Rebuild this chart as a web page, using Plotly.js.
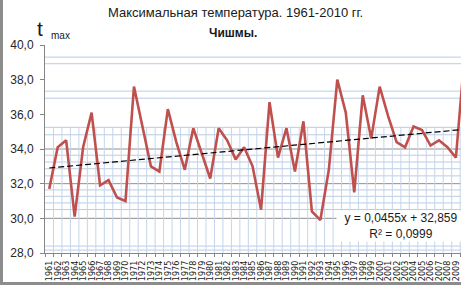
<!DOCTYPE html>
<html>
<head>
<meta charset="utf-8">
<script src="https://cdn.plot.ly/plotly-3.0.1.min.js"></script>
<style>
  html, body { margin: 0; padding: 0; background: #fff; overflow: hidden; }
  #wrap { position: relative; width: 461px; height: 285px; }
  #chart { position: absolute; left: 0; top: 0; width: 461px; height: 285px; }
  .bd { position: absolute; background: #8c8c8c; pointer-events: none; }
</style>
</head>
<body>
<div id="wrap">
  <div id="chart"></div>
  <div class="bd" style="left:0;top:0;width:3px;height:285px;"></div>
  <div class="bd" style="left:0;top:282px;width:461px;height:3px;"></div>
</div>
<script>
// ---- data ----
const years = [1961, 1962, 1963, 1964, 1965, 1966, 1967, 1968, 1969, 1970,
               1971, 1972, 1973, 1974, 1975, 1976, 1977, 1978, 1979, 1980,
               1981, 1982, 1983, 1984, 1985, 1986, 1987, 1988, 1989, 1990,
               1991, 1992, 1993, 1994, 1995, 1996, 1997, 1998, 1999, 2000,
               2001, 2002, 2003, 2004, 2005, 2006, 2007, 2008, 2009, 2010];
const tmax = [31.7, 34.1, 34.5, 30.1, 34.1, 36.1, 31.9, 32.2, 31.2, 31.0,
              37.6, 35.3, 33.0, 32.7, 36.3, 34.4, 32.8, 35.2, 33.7, 32.3,
              35.2, 34.5, 33.4, 34.1, 33.0, 30.5, 36.7, 33.5, 35.2, 32.7,
              35.6, 30.4, 29.9, 32.8, 38.0, 36.1, 31.5, 37.1, 34.6, 37.6,
              35.9, 34.4, 34.1, 35.3, 35.1, 34.2, 34.5, 34.1, 33.5, 39.3];
const trendSlope = 0.0455;
const trendIntercept = 32.859;
const trendR2 = "0,0999";
const yTicks = [28, 30, 32, 34, 36, 38, 40];
// gridline levels visible in the picture
const majorGrid = [30, 32, 34];
const minorGrid = [39.30, 38.92, 37.34, 36.93, 35.25, 34.82,
                   33.64, 33.25, 32.86, 32.45, 31.64, 31.27, 30.89, 30.51,
                   28.40, 28.17];

// ---- build ----
const trend = years.map((y, i) => trendIntercept + trendSlope * (i + 1));
const FONT = "Liberation Sans, Arial, sans-serif";

const shapes = [];
minorGrid.forEach(v => shapes.push({type: 'line', xref: 'paper', x0: 0, x1: 1, yref: 'y', y0: v, y1: v,
  line: {color: '#b9cde5', width: 1}, layer: 'below'}));
years.forEach(y => shapes.push({type: 'line', xref: 'x', x0: y + 0.5, x1: y + 0.5, yref: 'y', y0: 28, y1: 35.25,
  line: {color: '#c5d5ea', width: 1}, layer: 'below'}));
majorGrid.forEach(v => shapes.push({type: 'line', xref: 'paper', x0: 0, x1: 1, yref: 'y', y0: v, y1: v,
  line: {color: '#8f8f8f', width: 1}, layer: 'below'}));

const traces = [
  {x: years, y: tmax, type: 'scatter', mode: 'lines',
   line: {color: '#c0504d', width: 2.6}, hoverinfo: 'skip'},
  {x: years, y: trend, type: 'scatter', mode: 'lines',
   line: {color: '#000000', width: 1.2, dash: '6px,3px'}, hoverinfo: 'skip'}
];

const layout = {
  width: 461, height: 285,
  margin: {l: 45, r: 0, t: 45, b: 32, pad: 0},
  paper_bgcolor: '#ffffff', plot_bgcolor: '#ffffff',
  showlegend: false,
  separators: ', ',
  font: {family: FONT, color: '#1a1a1a'},
  xaxis: {
    range: [1960.5, 2009.6], tickmode: 'array', tickvals: years, ticktext: years.map(String),
    tickangle: -90, tickfont: {size: 9, family: "Liberation Sans Narrow, DejaVu Sans Condensed, Liberation Sans", color: '#1a1a1a'},
    showgrid: false, zeroline: false, showline: true, linecolor: '#868686', linewidth: 1,
    ticks: '', ticklabelstandoff: 3,
    minor: {tick0: 1960.5, dtick: 1, ticks: 'outside', ticklen: 3, tickcolor: '#868686', showgrid: false}
  },
  yaxis: {
    range: [28, 40], tickmode: 'array', tickvals: yTicks, tickformat: '.1f',
    showgrid: false, zeroline: false, showline: true, linecolor: '#868686', linewidth: 1,
    ticks: 'outside', ticklen: 4, tickcolor: '#868686', ticklabelstandoff: 4,
    tickfont: {size: 12, color: '#262626', family: FONT}
  },
  shapes: shapes,
  annotations: [
    {xref: 'paper', yref: 'paper', x: 0.457, y: 1.154, xanchor: 'center', yanchor: 'middle',
     text: 'Максимальная температура. 1961-2010 гг.', showarrow: false,
     font: {size: 13, family: FONT, color: '#1a1a1a'}},
    {xref: 'paper', yref: 'paper', x: 0.452, y: 1.058, xanchor: 'center', yanchor: 'middle',
     text: '<b>Чишмы.</b>', showarrow: false,
     font: {size: 12, family: FONT, color: '#1a1a1a'}},
    {xref: 'paper', yref: 'paper', x: -0.012, y: 1.077, xanchor: 'center', yanchor: 'middle',
     text: 't', showarrow: false, font: {size: 21, family: FONT, color: '#1a1a1a'}},
    {xref: 'paper', yref: 'paper', x: 0.038, y: 1.048, xanchor: 'center', yanchor: 'middle',
     text: 'max', showarrow: false, font: {size: 10, family: FONT, color: '#1a1a1a'}},
    {xref: 'paper', yref: 'paper', x: 0.855, y: 0.13, xanchor: 'center', yanchor: 'middle',
     text: 'y = ' + String(trendSlope).replace('.', ',') + 'x + ' + String(trendIntercept).replace('.', ',') + '<br>R² = ' + trendR2,
     showarrow: false, bgcolor: '#ffffff', borderpad: 0, width: 128, align: 'center',
     font: {size: 12, family: FONT, color: '#1a1a1a'}}
  ]
};

Plotly.newPlot('chart', traces, layout, {staticPlot: true, displayModeBar: false});
</script>
</body>
</html>
